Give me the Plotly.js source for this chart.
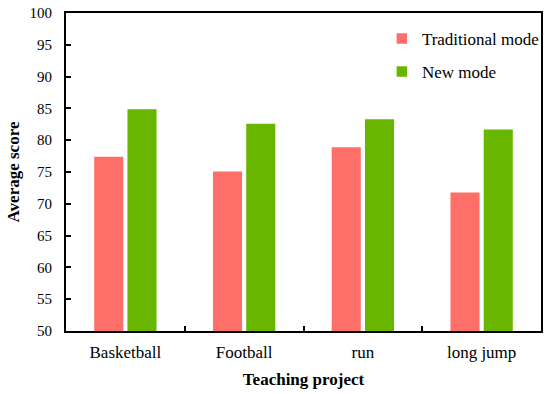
<!DOCTYPE html>
<html>
<head>
<meta charset="utf-8">
<script src="https://cdn.plot.ly/plotly-3.0.1.min.js"></script>
<style>html,body{margin:0;padding:0;background:#fff;}#chart{width:550px;height:394px;}</style>
</head>
<body>
<div id="chart"></div>
<script>
var categories = ["Basketball", "Football", "run", "long jump"];
var traditionalMode = [77.5, 75.2, 79.0, 71.9];
var newMode = [85.0, 82.7, 83.4, 81.8];
var yTicks = [50, 55, 60, 65, 70, 75, 80, 85, 90, 95, 100];

var font = "Liberation Serif";

var data = [
  {type: "bar", name: "Traditional mode", x: categories, y: traditionalMode,
   legendgroup: "a",
   marker: {color: "#ff6f69", line: {color: "#ffffff", width: 1.5}}},
  {type: "bar", name: "New mode", x: categories, y: newMode,
   legendgroup: "b",
   marker: {color: "#68b600", line: {color: "#ffffff", width: 1.5}}}
];

var layout = {
  width: 550, height: 394,
  margin: {l: 66, r: 9, t: 13, b: 63, autoexpand: false},
  paper_bgcolor: "#ffffff", plot_bgcolor: "#ffffff",
  font: {family: font, size: 15, color: "#000"},
  barmode: "group", bargap: 0.44, bargroupgap: 0.08,
  showlegend: true,
  legend: {x: 0.665, y: 0.975, xanchor: "left", yanchor: "top",
           font: {family: font, size: 17}, bgcolor: "rgba(0,0,0,0)",
           tracegroupgap: 8, traceorder: "grouped", itemwidth: 30},
  xaxis: {
    title: {text: "Teaching project", font: {family: font, size: 17, weight: "bold"}, standoff: 12},
    showline: true, linecolor: "#000", linewidth: 2, mirror: true,
    ticks: "inside", tickcolor: "#000", ticklen: 5, tickwidth: 2,
    tickson: "boundaries", showgrid: false, zeroline: false,
    ticklabelstandoff: 5,
    tickfont: {family: font, size: 17}
  },
  yaxis: {
    title: {text: "Average score", font: {family: font, size: 17, weight: "bold"}, standoff: 6},
    range: [50, 100], tickvals: yTicks, ticktext: yTicks.map(String),
    showline: true, linecolor: "#000", linewidth: 2, mirror: true,
    ticks: "inside", tickcolor: "#000", ticklen: 5, tickwidth: 2,
    ticklabelstandoff: 9,
    showgrid: false, zeroline: false,
    tickfont: {family: font, size: 15}
  }
};

Plotly.newPlot("chart", data, layout, {displayModeBar: false, staticPlot: true});
</script>
</body>
</html>
